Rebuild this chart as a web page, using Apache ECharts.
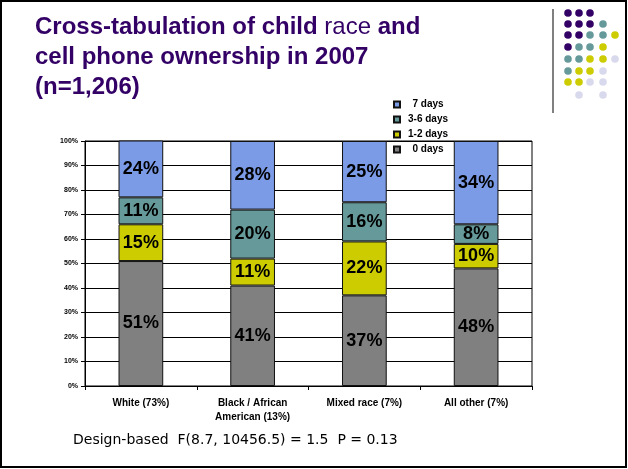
<!DOCTYPE html>
<html><head><meta charset="utf-8">
<script src="https://cdn.jsdelivr.net/npm/echarts@6/dist/echarts.min.js"></script>
<style>html,body{margin:0;padding:0;background:#fff}#c{width:628px;height:469px}</style>
</head><body><div id="c"></div>
<script>
const categories = ['White (73%)', 'Black / African\nAmerican (13%)', 'Mixed race (7%)', 'All other (7%)'];
const days0 = [51, 41, 37, 48];
const days12 = [15, 11, 22, 10];
const days36 = [11, 20, 16, 8];
const days7 = [24, 28, 25, 34];
const yTicks = [0, 10, 20, 30, 40, 50, 60, 70, 80, 90, 100];
const seriesNames = ['0 days', '1-2 days', '3-6 days', '7 days'];
const seriesColors = ['#808080', '#CCCC00', '#669999', '#7B9BE6'];
const seriesData = [days0, days12, days36, days7];

const chart = echarts.init(document.getElementById('c'), null, {renderer: 'canvas'});

const dotColors = {P: '#330066', T: '#669999', Y: '#CCCC00', L: '#D9D9EE'};
const dotRows = ['PPP..', 'PPPT.', 'PPTTY', 'PTTY.', 'TTYYL', 'TYYL.', 'YYLL.', '.L.L.'];
const dotX = [568, 579, 590, 603, 615];
const dotY = [13, 24, 35, 47, 59, 71, 82, 95];
const graphics = [
  {type: 'rect', shape: {x: 1, y: 1, width: 625, height: 466}, style: {fill: 'none', stroke: '#000', lineWidth: 2}, z: 100},
  {type: 'line', shape: {x1: 553, y1: 9, x2: 553, y2: 113}, style: {stroke: '#000', lineWidth: 1}},
  {type: 'text', left: 73, top: 433, style: {text: 'Design-based  F(8.7, 10456.5) = 1.5  P = 0.13', font: '14px "DejaVu Sans", sans-serif', fill: '#000'}}
];
dotRows.forEach((row, r) => {
  row.split('').forEach((ch, c) => {
    if (ch !== '.') graphics.push({type: 'circle', shape: {cx: dotX[c], cy: dotY[r], r: 3.8}, style: {fill: dotColors[ch]}});
  });
});

chart.setOption({
  animation: false,
  title: {
    left: 30, top: 7,
    text: '{b|Cross-tabulation of child }{n|race}{b| and}\n{b|cell phone ownership in 2007}\n{b|(n=1,206)}',
    textStyle: {
      rich: {
        b: {fontFamily: 'Liberation Sans, Arial', fontWeight: 'bold', fontSize: 24, color: '#330066', lineHeight: 30},
        n: {fontFamily: 'Liberation Sans, Arial', fontWeight: 'normal', fontSize: 24, color: '#330066', lineHeight: 30}
      }
    }
  },
  legend: {
    orient: 'vertical', left: 388, top: 94,
    data: ['7 days', '3-6 days', '1-2 days', '0 days'],
    itemWidth: 6, itemHeight: 6, itemGap: 4, icon: 'rect',
    formatter: '{a|{name}}',
    textStyle: {rich: {a: {fontFamily: 'Liberation Sans, Arial', fontWeight: 'bold', fontSize: 10, color: '#000', width: 46, align: 'center', lineHeight: 11, height: 11}}}
  },
  grid: {left: 85, top: 141, right: 96, bottom: 83, show: true, borderColor: '#000', borderWidth: 1},
  xAxis: {
    type: 'category', data: categories,
    axisLine: {lineStyle: {color: '#000', width: 1}},
    axisTick: {show: true, length: 4, lineStyle: {color: '#000'}},
    axisLabel: {fontFamily: 'Liberation Sans, Arial', fontWeight: 'bold', fontSize: 10, color: '#000', margin: 10, lineHeight: 14, interval: 0}
  },
  yAxis: {
    type: 'value', min: yTicks[0], max: yTicks[yTicks.length - 1], interval: 10,
    axisLine: {show: true, lineStyle: {color: '#000'}},
    axisTick: {show: true, length: 4, lineStyle: {color: '#000'}},
    splitLine: {lineStyle: {color: '#000', width: 1}},
    axisLabel: {formatter: '{value}%', fontFamily: 'Liberation Sans, Arial', fontWeight: 'bold', fontSize: 7, color: '#000', margin: 7}
  },
  series: seriesNames.map((n, i) => ({
    name: n, type: 'bar', stack: 'all', barWidth: '40%',
    data: seriesData[i],
    itemStyle: {color: seriesColors[i], borderColor: '#111', borderWidth: 1},
    label: {show: true, position: 'inside', formatter: '{c}%', fontFamily: 'Liberation Sans, Arial', fontWeight: 'bold', fontSize: 18, color: '#000'}
  })),
  graphic: graphics
});
</script></body></html>
